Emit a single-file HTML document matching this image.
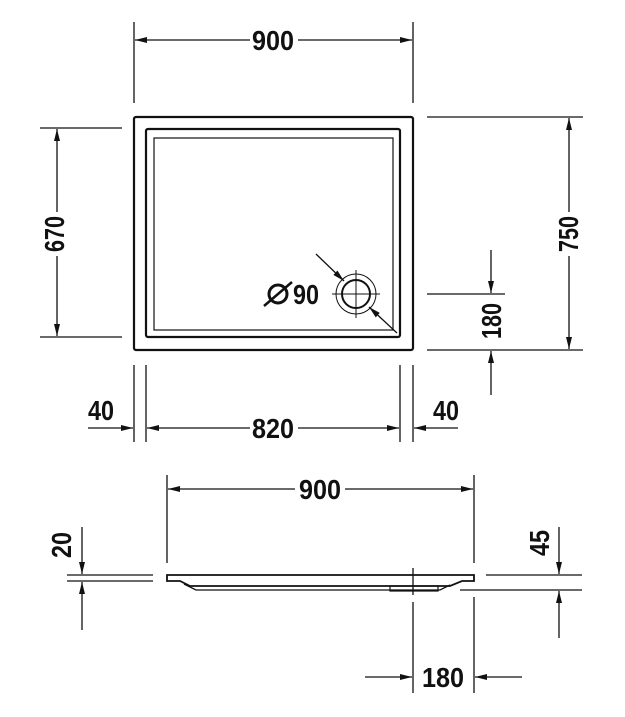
<!DOCTYPE html>
<html><head><meta charset="utf-8"><style>
html,body{margin:0;padding:0;background:#fff;}
svg{display:block}
text{font-family:"Liberation Sans Narrow","Liberation Sans",sans-serif;font-weight:bold;font-size:28px;fill:#111;}
</style></head><body>
<svg width="625" height="717" viewBox="0 0 625 717" xmlns="http://www.w3.org/2000/svg">
<defs>
<marker id="a" viewBox="0 0 12 6" refX="12" refY="3" markerWidth="12" markerHeight="6" markerUnits="userSpaceOnUse" orient="auto"><path d="M0,0 L12,3 L0,6 z" fill="#111"/></marker>
</defs>
<g stroke="#111" stroke-width="1.3" fill="none">
<line x1="134" y1="22" x2="134" y2="103"/><line x1="413" y1="22" x2="413" y2="103"/>
<line x1="250" y1="40" x2="135" y2="40" marker-end="url(#a)"/>
<line x1="298" y1="40" x2="412" y2="40" marker-end="url(#a)"/>
<rect x="134" y="117" width="279" height="233" rx="2" stroke-width="2.2"/>
<rect x="146" y="129" width="254" height="208" rx="2" stroke-width="2.2"/>
<rect x="154" y="138" width="239" height="192" stroke-width="1.2"/>
<circle cx="356" cy="294" r="20" stroke-width="1"/>
<circle cx="356" cy="294" r="14" stroke-width="2"/>
<line x1="332" y1="294" x2="380" y2="294" stroke-width="1"/>
<line x1="356" y1="270" x2="356" y2="318" stroke-width="1"/>
<line x1="316" y1="254" x2="344" y2="281" marker-end="url(#a)"/>
<line x1="397" y1="333" x2="369" y2="307" marker-end="url(#a)"/>
<circle cx="278" cy="294" r="9" stroke-width="3"/>
<line x1="264" y1="306" x2="292" y2="282" stroke-width="2.5"/>
<line x1="40" y1="128" x2="122" y2="128"/><line x1="40" y1="337" x2="122" y2="337"/>
<line x1="57" y1="212" x2="57" y2="129" marker-end="url(#a)"/>
<line x1="57" y1="256" x2="57" y2="336" marker-end="url(#a)"/>
<line x1="427" y1="117" x2="583" y2="117"/><line x1="427" y1="350" x2="583" y2="350"/>
<line x1="569" y1="212" x2="569" y2="118" marker-end="url(#a)"/>
<line x1="569" y1="256" x2="569" y2="349" marker-end="url(#a)"/>
<line x1="427" y1="294" x2="505" y2="294"/>
<line x1="491" y1="250" x2="491" y2="293" marker-end="url(#a)"/>
<line x1="491" y1="395" x2="491" y2="351" marker-end="url(#a)"/>
<line x1="134" y1="365" x2="134" y2="442"/><line x1="146" y1="365" x2="146" y2="442"/>
<line x1="400" y1="365" x2="400" y2="442"/><line x1="413" y1="365" x2="413" y2="442"/>
<line x1="88" y1="428" x2="133" y2="428" marker-end="url(#a)"/>
<line x1="458" y1="428" x2="414" y2="428" marker-end="url(#a)"/>
<line x1="250" y1="428" x2="147" y2="428" marker-end="url(#a)"/>
<line x1="298" y1="428" x2="399" y2="428" marker-end="url(#a)"/>
<line x1="167" y1="475" x2="167" y2="563"/><line x1="474" y1="475" x2="474" y2="563"/>
<line x1="295" y1="489" x2="168" y2="489" marker-end="url(#a)"/>
<line x1="345" y1="489" x2="473" y2="489" marker-end="url(#a)"/>
<path d="M167,575 L474,575 L474,581 L462,581 L450,586 L190,586 L180,581 L167,581 Z" stroke-width="1.8"/>
<path d="M184,584 L196,590 L440,590 L450,585" stroke-width="1.3"/>
<rect x="390" y="586" width="48" height="5" stroke-width="1.2"/>
<line x1="413" y1="568" x2="413" y2="595"/>
<line x1="413" y1="602" x2="413" y2="693"/>
<line x1="474" y1="597" x2="474" y2="693"/>
<line x1="67" y1="575" x2="153" y2="575"/><line x1="67" y1="581" x2="153" y2="581"/>
<line x1="82" y1="527" x2="82" y2="574" marker-end="url(#a)"/>
<line x1="82" y1="630" x2="82" y2="582" marker-end="url(#a)"/>
<line x1="486" y1="575" x2="582" y2="575"/><line x1="460" y1="590" x2="582" y2="590"/>
<line x1="559" y1="527" x2="559" y2="574" marker-end="url(#a)"/>
<line x1="559" y1="638" x2="559" y2="591" marker-end="url(#a)"/>
<line x1="365" y1="677" x2="412" y2="677" marker-end="url(#a)"/>
<line x1="522" y1="677" x2="475" y2="677" marker-end="url(#a)"/>
</g>
<g text-anchor="middle">
<text x="273" y="50" textLength="42" lengthAdjust="spacingAndGlyphs">900</text>
<text x="306" y="304" textLength="26" lengthAdjust="spacingAndGlyphs">90</text>
<text x="273" y="438" textLength="42" lengthAdjust="spacingAndGlyphs">820</text>
<text x="101" y="420" textLength="26" lengthAdjust="spacingAndGlyphs">40</text>
<text x="446" y="420" textLength="26" lengthAdjust="spacingAndGlyphs">40</text>
<text x="320" y="499" textLength="42" lengthAdjust="spacingAndGlyphs">900</text>
<text x="443" y="687" textLength="42" lengthAdjust="spacingAndGlyphs">180</text>
<text transform="translate(64,234) rotate(-90)" textLength="36" lengthAdjust="spacingAndGlyphs">670</text>
<text transform="translate(578,234) rotate(-90)" textLength="36" lengthAdjust="spacingAndGlyphs">750</text>
<text transform="translate(501,321) rotate(-90)" textLength="36" lengthAdjust="spacingAndGlyphs">180</text>
<text transform="translate(71,545) rotate(-90)" textLength="26" lengthAdjust="spacingAndGlyphs">20</text>
<text transform="translate(549,543) rotate(-90)" textLength="26" lengthAdjust="spacingAndGlyphs">45</text>
</g>
</svg>
</body></html>
